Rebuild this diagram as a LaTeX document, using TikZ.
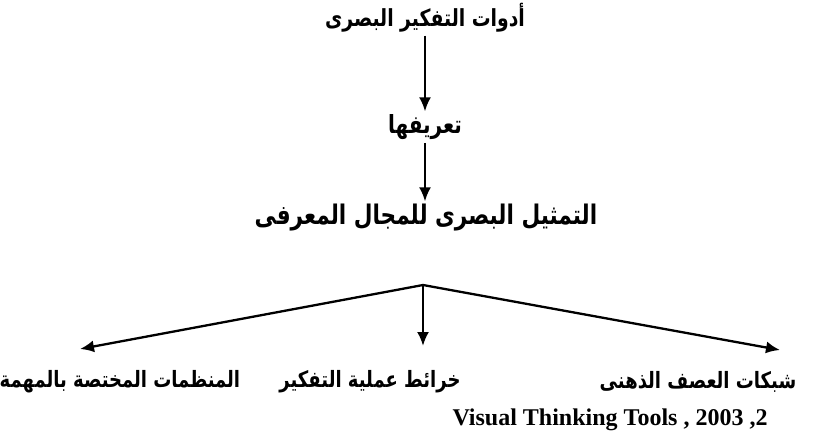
\documentclass[tikz,border=0pt]{standalone}
\usepackage{fontspec}
\setmainfont{Liberation Serif}
\newfontfamily\arabicfont[Script=Arabic, FakeStretch=0.8]{DejaVu Sans}
\TeXXeTstate=1
\usetikzlibrary{arrows.meta}

\begin{document}
\begin{tikzpicture}[x=1pt, y=-1pt,
  arb/.style = {font=\arabicfont\bfseries\fontsize{#1}{#1}\selectfont, inner sep=3pt},
  arb/.default = 22.5,
  flx/.style = {-{Latex[length=14pt,width=12pt]}, line width=1.8pt},
  fan/.style = {-{Latex[length=14pt,width=12pt]}, line width=2.3pt},
  src/.style = {font=\bfseries\fontsize{24}{28}\selectfont, inner sep=0pt}
]
\useasboundingbox (0,0) rectangle (821,440);

% --- haut : titre et definition ---
\node[arb=23.5] (title) at (425,18)  {\beginR أدوات التفكير البصرى\endR};
\node[arb=25]   (defn)  at (425,127) {\beginR تعريفها\endR};
\node[arb=27]   (repr)  at (426,218) {\beginR التمثيل البصرى للمجال المعرفى\endR};
\draw[flx] (title) -- (defn);
\draw[flx] (defn) -- (defn |- repr.north);

% --- bas : trois outils ---
\node[arb] (left)  at (120,382) {\beginR المنظمات المختصة بالمهمة\endR};
\node[arb] (mid)   at (370,382) {\beginR خرائط عملية التفكير\endR};
\node[arb] (right) at (698,382) {\beginR شبكات العصف الذهنى\endR};
\coordinate (hub)  at (423,285);
\coordinate (tipL) at (80,349);
\coordinate (tipM) at (423,346);
\coordinate (tipR) at (780,350);
\draw[fan] (hub) -- (tipL);
\draw[fan] (hub) -- (tipM);
\draw[fan] (hub) -- (tipR);

\node[src] (cite) at (610,420) {Visual Thinking Tools , 2003 ,2};
\end{tikzpicture}
\end{document}
